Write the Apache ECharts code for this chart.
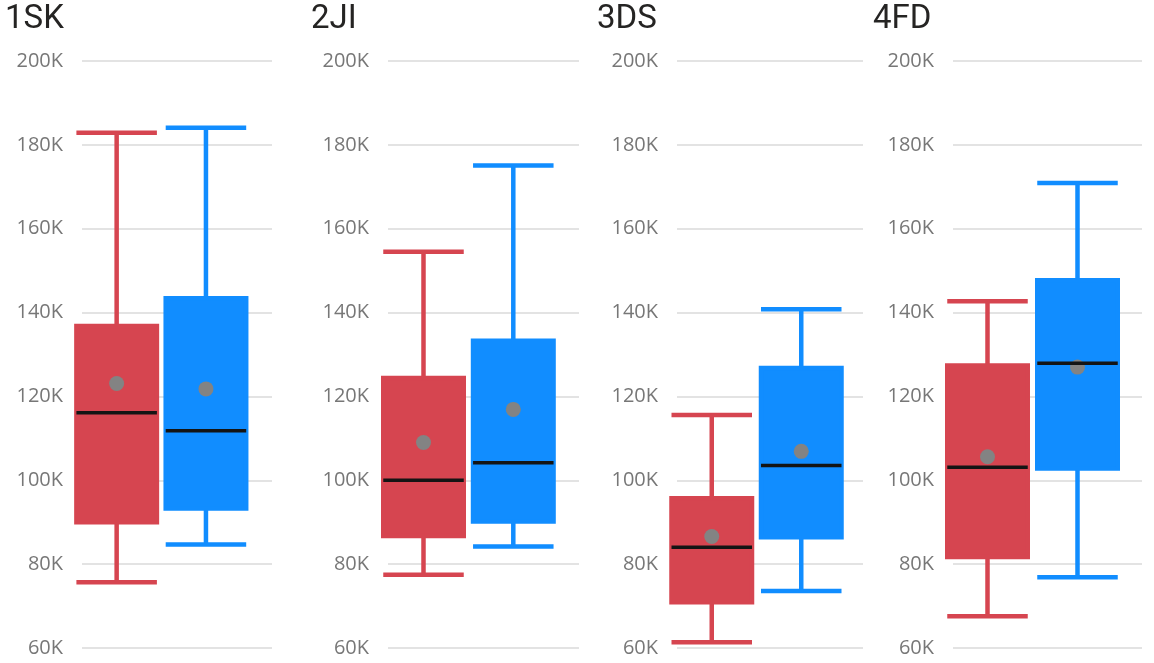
<!DOCTYPE html>
<html>
<head>
<meta charset="utf-8">
<script src="https://cdn.jsdelivr.net/npm/echarts@6.0.0/dist/echarts.min.js"></script>
<style>
  html, body { margin: 0; padding: 0; background: #fff; }
  #chart { width: 1154px; height: 663px; }
</style>
</head>
<body>
<div id="chart"></div>
<script>
// panels and the two groups in each
const panels = ['1SK', '2JI', '3DS', '4FD'];
const groups = ['A', 'B'];
const yTicks = [60000, 80000, 100000, 120000, 140000, 160000, 180000, 200000];

// red group, one value per panel
const redLow = [75700, 77500, 61400, 67600];
const redQ1 = [90000, 86700, 70900, 81700];
const redMedian = [116100, 100000, 84000, 103100];
const redQ3 = [136800, 124400, 95700, 127400];
const redHigh = [182900, 154500, 115600, 142700];
const redMean = [123100, 109000, 86600, 105600];

// blue group
const blueLow = [84700, 84200, 73600, 76900];
const blueQ1 = [93300, 90200, 86400, 102800];
const blueMedian = [111800, 104200, 103500, 127900];
const blueQ3 = [143400, 133300, 126800, 147700];
const blueHigh = [184100, 175100, 140800, 170900];
const blueMean = [121800, 116900, 106900, 127000];

const RED = '#D64550';
const BLUE = '#118DFF';

// layout of each panel (px)
const titleLeft = [5, 311, 597, 873];
const lineLeft = [82, 388, 677, 953];
const lineRight = [272, 579, 863, 1142];
const boxLeft = [72, 378.6, 667, 942.5];
const boxWidthPx = [178.6, 179.6, 179, 180];
const TOP = 61;
const HEIGHT = 587;

const chart = echarts.init(document.getElementById('chart'), null, { renderer: 'canvas' });

const title = [];
const grid = [];
const xAxis = [];
const yAxis = [];
const series = [];

panels.forEach((name, i) => {
  title.push({
    text: name,
    left: titleLeft[i],
    top: 3,
    padding: 0,
    textStyle: {
      fontFamily: 'Roboto',
      fontSize: 33,
      fontWeight: 'normal',
      color: '#252423',
    },
  });
  // grid with the value labels and gridlines
  grid.push({
    left: lineLeft[i],
    width: lineRight[i] - lineLeft[i],
    top: TOP,
    height: HEIGHT,
  });
  // grid where the boxes are placed
  grid.push({
    left: boxLeft[i],
    width: boxWidthPx[i],
    top: TOP,
    height: HEIGHT,
  });
  xAxis.push({ type: 'value', gridIndex: 2 * i, show: false });
  xAxis.push({ type: 'category', gridIndex: 2 * i + 1, data: groups, show: false });
  yAxis.push({
    type: 'value',
    gridIndex: 2 * i,
    min: yTicks[0],
    max: yTicks[yTicks.length - 1],
    interval: 20000,
    axisLine: { show: false },
    axisTick: { show: false },
    axisLabel: {
      margin: 19,
      fontFamily: 'Open Sans',
      fontSize: 20,
      color: '#777777',
      formatter: (v) => v / 1000 + 'K',
    },
    splitLine: {
      show: true,
      lineStyle: { color: '#e3e3e3', width: 2 },
    },
  });
  yAxis.push({
    type: 'value',
    gridIndex: 2 * i + 1,
    min: yTicks[0],
    max: yTicks[yTicks.length - 1],
    show: false,
    splitLine: { show: false },
  });

  series.push({
    type: 'boxplot',
    xAxisIndex: 2 * i + 1,
    yAxisIndex: 2 * i + 1,
    boxWidth: [80.5, 80.5],
    silent: true,
    data: [
      {
        value: [redLow[i], redQ1[i], redMedian[i], redQ3[i], redHigh[i]],
        itemStyle: { color: RED, borderColor: RED, borderWidth: 4.5 },
      },
      {
        value: [blueLow[i], blueQ1[i], blueMedian[i], blueQ3[i], blueHigh[i]],
        itemStyle: { color: BLUE, borderColor: BLUE, borderWidth: 4.5 },
      },
    ],
  });
  // mean dots
  series.push({
    type: 'scatter',
    xAxisIndex: 2 * i + 1,
    yAxisIndex: 2 * i + 1,
    symbol: 'circle',
    symbolSize: 15,
    silent: true,
    itemStyle: { color: '#838383', opacity: 1 },
    data: [[0, redMean[i]], [1, blueMean[i]]],
  });
  // median lines
  series.push({
    type: 'scatter',
    xAxisIndex: 2 * i + 1,
    yAxisIndex: 2 * i + 1,
    symbol: 'rect',
    symbolSize: [80.5, 3.5],
    silent: true,
    itemStyle: { color: '#141414', opacity: 1 },
    data: [[0, redMedian[i]], [1, blueMedian[i]]],
  });
});

chart.setOption({
  animation: false,
  title,
  grid,
  xAxis,
  yAxis,
  series,
});
</script>
</body>
</html>
